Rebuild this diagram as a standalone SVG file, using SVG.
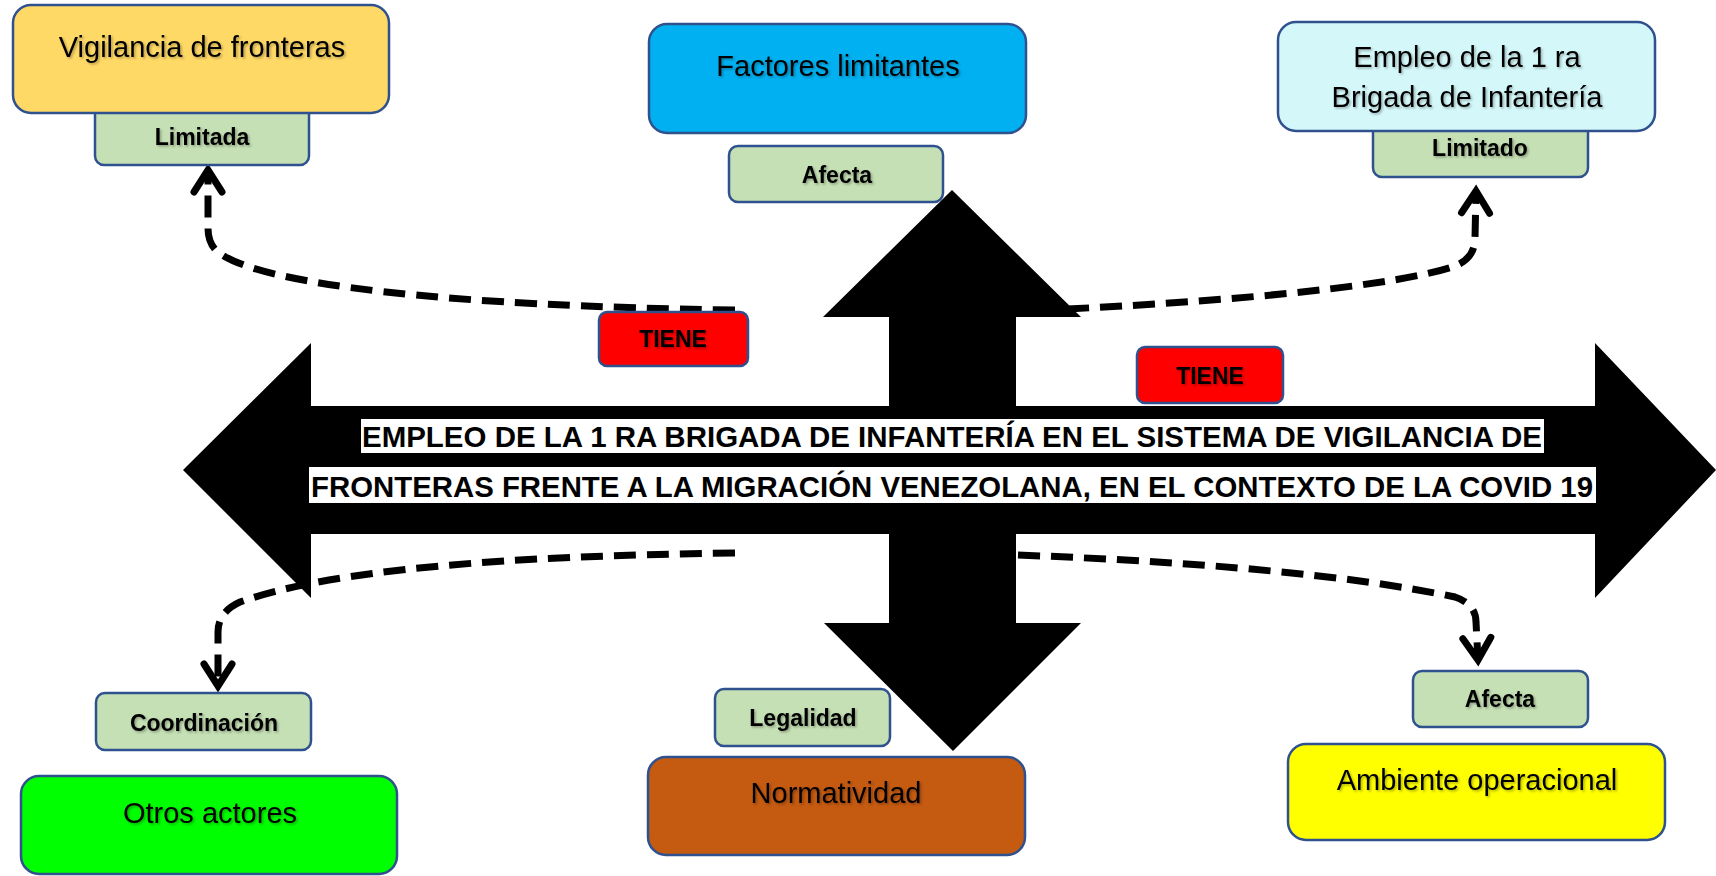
<svg xmlns="http://www.w3.org/2000/svg" width="1716" height="876" viewBox="0 0 1716 876">
<style>
.box{stroke:#2f528f;stroke-width:2.5}
.lbl{fill:#c5e0b4}
.tiene{fill:#ff0000}
.t{font-family:"Liberation Sans",Arial,sans-serif;font-size:29px;fill:#000;text-anchor:middle;filter:url(#ts)}
.b{font-family:"Liberation Sans",Arial,sans-serif;font-size:23px;font-weight:bold;fill:#000;text-anchor:middle;filter:url(#ts)}
.title{font-family:"Liberation Sans",Arial,sans-serif;font-size:30px;font-weight:bold;fill:#000}
.dash{fill:none;stroke:#000;stroke-width:7;stroke-dasharray:22 11;marker-end:url(#ah)}
</style>
<defs>
<filter id="ts" x="-10%" y="-30%" width="120%" height="160%">
<feDropShadow dx="1.5" dy="1.5" stdDeviation="1" flood-color="#000" flood-opacity="0.3"/>
</filter>
<marker id="ah" markerUnits="userSpaceOnUse" markerWidth="50" markerHeight="50" viewBox="-30 -25 50 50" refX="0" refY="0" orient="auto" overflow="visible">
<path d="M -22 -14 L 0 0 L -22 14" fill="none" stroke="#000" stroke-width="7" stroke-linecap="round" stroke-linejoin="miter" stroke-dasharray="none"/>
</marker>
</defs>
<rect width="1716" height="876" fill="#fff"/>

<g id="cross-arrow">
<polygon fill="#000" points="183,470 311,343 311,406 889,406 889,317 823,317 952,190 1081,317 1016,317 1016,406 1595,406 1595,343 1716,470 1595,598 1595,534 1016,534 1016,623 1081,623 953,751 824,623 889,623 889,534 311,534 311,598"/>
<rect x="361" y="419" width="1183" height="34" fill="#fff"/>
<rect x="309" y="467" width="1287" height="36" fill="#fff"/>
<text class="title" x="362" y="447" textLength="1180" lengthAdjust="spacingAndGlyphs">EMPLEO DE LA 1 RA BRIGADA DE INFANTERÍA EN EL SISTEMA DE VIGILANCIA DE</text>
<text class="title" x="311" y="497" textLength="1282" lengthAdjust="spacingAndGlyphs">FRONTERAS FRENTE A LA MIGRACIÓN VENEZOLANA, EN EL CONTEXTO DE LA COVID 19</text>
</g>

<g id="connectors">
<path class="dash" d="M 735 310 C 450 306, 260 285, 218 252 Q 208 244 208 228 L 208 170"/>
<path class="dash" d="M 1067 309 C 1250 300, 1400 285, 1455 266 Q 1475 258 1475 238 L 1476 191"/>
<path class="dash" d="M 735 553 C 500 556, 330 570, 240 602 Q 218 612 218 632 L 218 686"/>
<path class="dash" d="M 1018 555 C 1200 562, 1350 575, 1455 597 Q 1476 604 1476 622 L 1478 660"/>
</g>

<g id="lbl-limitada">
<rect class="box lbl" x="95" y="100" width="214" height="65" rx="9"/>
<text class="b" x="202" y="145">Limitada</text>
</g>
<g id="node-vigilancia">
<rect class="box" fill="#ffd966" x="13" y="5" width="376" height="108" rx="18"/>
<text class="t" x="202" y="57">Vigilancia de fronteras</text>
</g>

<g id="node-factores">
<rect class="box" fill="#00b0f0" x="649" y="24" width="377" height="109" rx="18"/>
<text class="t" x="838" y="76">Factores limitantes</text>
</g>
<g id="lbl-afecta-top">
<rect class="box lbl" x="729" y="146" width="214" height="56" rx="9"/>
<text class="b" x="837" y="183">Afecta</text>
</g>

<g id="lbl-limitado">
<rect class="box lbl" x="1373" y="118" width="215" height="59" rx="9"/>
<text class="b" x="1480" y="156">Limitado</text>
</g>
<g id="node-empleo">
<rect class="box" fill="#d4f8fa" x="1278" y="22" width="377" height="109" rx="18"/>
<text class="t" x="1467" y="67">Empleo de la 1 ra</text>
<text class="t" x="1467" y="107">Brigada de Infantería</text>
</g>

<g id="lbl-tiene-left">
<rect class="box tiene" x="599" y="312" width="149" height="54" rx="8"/>
<text class="b" x="673" y="347">TIENE</text>
</g>
<g id="lbl-tiene-right">
<rect class="box tiene" x="1137" y="347" width="146" height="56" rx="8"/>
<text class="b" x="1210" y="384">TIENE</text>
</g>

<g id="lbl-coordinacion">
<rect class="box lbl" x="96" y="693" width="215" height="57" rx="9"/>
<text class="b" x="204" y="731">Coordinación</text>
</g>
<g id="node-otros">
<rect class="box" fill="#00ff00" x="21" y="776" width="376" height="98" rx="18"/>
<text class="t" x="210" y="823">Otros actores</text>
</g>

<g id="lbl-legalidad">
<rect class="box lbl" x="715" y="689" width="175" height="57" rx="9"/>
<text class="b" x="803" y="726">Legalidad</text>
</g>
<g id="node-normatividad">
<rect class="box" fill="#c55a11" x="648" y="757" width="377" height="98" rx="18"/>
<text class="t" x="836" y="803">Normatividad</text>
</g>

<g id="lbl-afecta-bottom">
<rect class="box lbl" x="1413" y="671" width="175" height="56" rx="9"/>
<text class="b" x="1500" y="707">Afecta</text>
</g>
<g id="node-ambiente">
<rect class="box" fill="#ffff00" x="1288" y="744" width="377" height="96" rx="18"/>
<text class="t" x="1477" y="790">Ambiente operacional</text>
</g>
</svg>
